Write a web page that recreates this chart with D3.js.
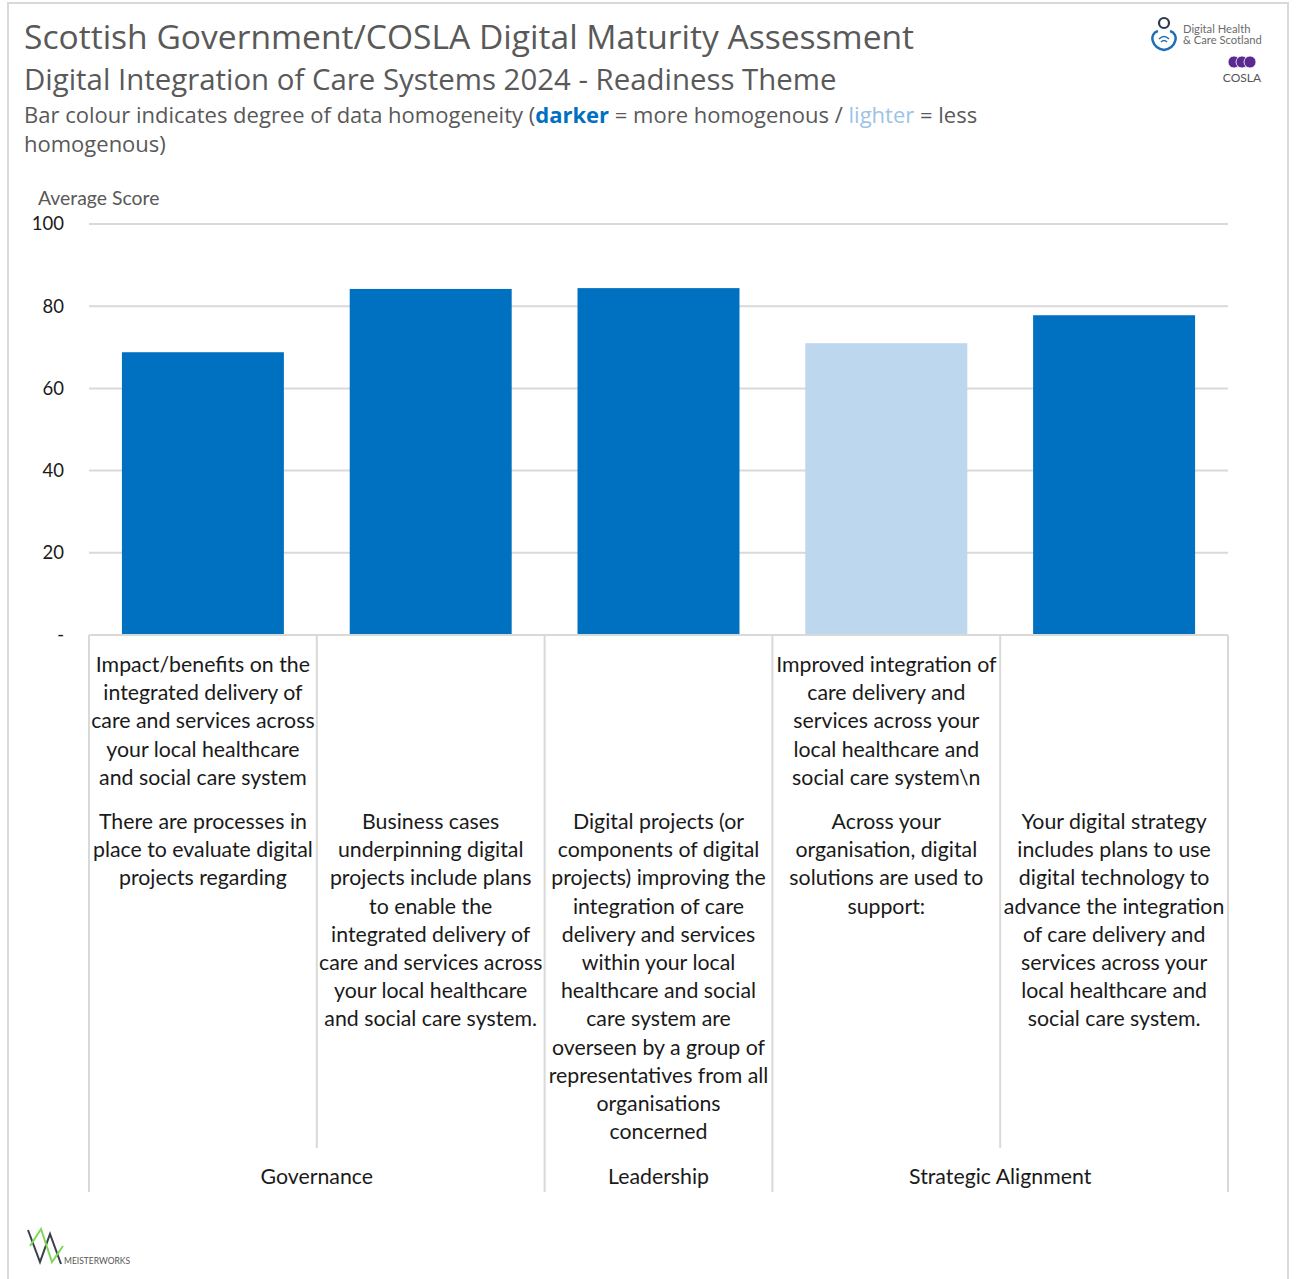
<!DOCTYPE html>
<html><head><meta charset="utf-8">
<script src="https://cdn.jsdelivr.net/npm/d3@7"></script>
<style>
body{margin:0;background:#fff;}
svg{display:block;}
</style></head>
<body>
<svg id="chart" width="1297" height="1279"></svg>
<script>
// ---- data ----
const categories = ["Q1","Q2","Q3","Q4","Q5"];
const values = [68.8, 84.2, 84.4, 71.0, 77.8];
const homogeneity = ["darker","darker","darker","lighter","darker"];
const subLabels = [
  ["Impact/benefits on the","integrated delivery of","care and services across","your local healthcare","and social care system"],
  [],
  [],
  ["Improved integration of","care delivery and","services across your","local healthcare and","social care system\\n"],
  []
];
const mainLabels = [
  ["There are processes in","place to evaluate digital","projects regarding"],
  ["Business cases","underpinning digital","projects include plans","to enable the","integrated delivery of","care and services across","your local healthcare","and social care system."],
  ["Digital projects (or","components of digital","projects) improving the","integration of care","delivery and services","within your local","healthcare and social","care system are","overseen by a group of","representatives from all","organisations","concerned"],
  ["Across your","organisation, digital","solutions are used to","support:"],
  ["Your digital strategy","includes plans to use","digital technology to","advance the integration","of care delivery and","services across your","local healthcare and","social care system."]
];
const groups = ["Governance","Governance","Leadership","Strategic Alignment","Strategic Alignment"];
const yTicks = [0,20,40,60,80,100];
const yTickLabels = ["-","20","40","60","80","100"];

// ---- styles ----
const colors = {darker:"#0070C0", lighter:"#BDD7EE"};
const grid = "#d9d9d9";
const labelFont = "Lato, 'Open Sans', sans-serif";
const labelSize = 21.3;

const svg = d3.select("#chart");

// frame
svg.append("rect").attr("x",8).attr("y",3).attr("width",1280).attr("height",1290)
  .attr("fill","none").attr("stroke","#d9d9d9").attr("stroke-width",2);

// titles
const tf = "'Open Sans', sans-serif";
svg.append("text").attr("x",24).attr("y",49).attr("font-family",tf).attr("font-size",33.6)
  .attr("fill","#595959").text("Scottish Government/COSLA Digital Maturity Assessment");
svg.append("text").attr("x",24).attr("y",90).attr("font-family",tf).attr("font-size",29.4)
  .attr("fill","#595959").text("Digital Integration of Care Systems 2024 - Readiness Theme");
const note = svg.append("text").attr("x",24).attr("y",123).attr("font-family",tf).attr("font-size",22).attr("fill","#595959");
note.append("tspan").text("Bar colour indicates degree of data homogeneity (");
note.append("tspan").attr("fill","#0070C0").attr("font-weight","bold").text("darker");
note.append("tspan").text(" = more homogenous / ");
note.append("tspan").attr("fill","#9DC3E6").text("lighter");
note.append("tspan").text(" = less");
svg.append("text").attr("x",24).attr("y",152).attr("font-family",tf).attr("font-size",22)
  .attr("fill","#595959").text("homogenous)");

// scales
const x = d3.scaleBand().domain(categories).range([89,1228]).paddingInner(0.289).paddingOuter(0.1445);
const cell = d3.scaleBand().domain(categories).range([89,1228]).padding(0);
const y = d3.scaleLinear().domain([0,100]).range([635,224]);

// gridlines
svg.append("g").selectAll("line").data(yTicks.filter(d=>d>0)).join("line")
  .attr("x1",89).attr("x2",1228).attr("y1",d=>y(d)).attr("y2",d=>y(d))
  .attr("stroke",grid).attr("stroke-width",2);

// y axis labels
svg.append("text").attr("x",38).attr("y",205).attr("font-family",labelFont).attr("font-size",19.4)
  .attr("fill","#595959").text("Average Score");
const yAxis = d3.axisLeft(y).tickValues(yTicks).tickFormat((d,i)=>yTickLabels[i]).tickSize(0).tickPadding(0);
const ya = svg.append("g").attr("transform","translate(64,0)").call(yAxis);
ya.select(".domain").remove();
ya.selectAll("text").attr("font-family",labelFont).attr("font-size",18.5).attr("fill","#1a1a1a");

// bars
svg.append("g").selectAll("rect").data(categories).join("rect")
  .attr("x",d=>x(d)).attr("width",x.bandwidth())
  .attr("y",(d,i)=>y(values[i])).attr("height",(d,i)=>y(0)-y(values[i]))
  .attr("fill",(d,i)=>colors[homogeneity[i]]);

// category axis box
const axisTop = y(0);
svg.append("line").attr("x1",89).attr("x2",1228).attr("y1",axisTop).attr("y2",axisTop)
  .attr("stroke",grid).attr("stroke-width",2);
const groupBounds = [];
categories.forEach((c,i)=>{
  if(i===0 || groups[i]!==groups[i-1]) groupBounds.push({start:cell(c), name:groups[i], idx:i});
});
groupBounds.forEach((g,k)=>{
  g.end = k<groupBounds.length-1 ? groupBounds[k+1].start : cell.range()[1];
});
const dividers = [];
categories.forEach((c,i)=>{
  const xs = cell(c);
  const isGroupStart = i===0 || groups[i]!==groups[i-1];
  dividers.push({x:xs, y2: isGroupStart?1192:1148});
});
dividers.push({x:cell.range()[1], y2:1192});
svg.append("g").selectAll("line").data(dividers).join("line")
  .attr("x1",d=>d.x).attr("x2",d=>d.x).attr("y1",axisTop).attr("y2",d=>d.y2)
  .attr("stroke",grid).attr("stroke-width",2);

// category labels
const lh = 28.2;
categories.forEach((c,i)=>{
  const cx = cell(c)+cell.bandwidth()/2;
  const g = svg.append("g").attr("font-family",labelFont).attr("font-size",labelSize).attr("fill","#1a1a1a").attr("text-anchor","middle");
  subLabels[i].forEach((t,j)=>{
    g.append("text").attr("x",cx).attr("y",672+j*lh).text(t);
  });
  mainLabels[i].forEach((t,j)=>{
    g.append("text").attr("x",cx).attr("y",829+j*lh).text(t);
  });
});
// group labels
svg.append("g").selectAll("text").data(groupBounds).join("text")
  .attr("x",d=>(d.start+d.end)/2).attr("y",1184).attr("text-anchor","middle")
  .attr("font-family",labelFont).attr("font-size",labelSize).attr("fill","#1a1a1a").text(d=>d.name);

// ---- logos (decorative) ----
const lg = svg.append("g");
lg.append("circle").attr("cx",1164).attr("cy",23).attr("r",5).attr("fill","none").attr("stroke","#2b3a4a").attr("stroke-width",2.2);
lg.append("path").attr("d","M1158,31 C1148,34 1152,48 1164,50 C1176,48 1180,34 1170,31").attr("fill","none").attr("stroke","#1f6fb8").attr("stroke-width",2.5);
lg.append("path").attr("d","M1159,39 Q1164,34 1169,39 M1161,42 Q1164,39 1167,42").attr("fill","none").attr("stroke","#1f6fb8").attr("stroke-width",1.6);
lg.append("text").attr("x",1183).attr("y",33).attr("font-family","Lato, sans-serif").attr("font-size",11.2).attr("fill","#6b6b6b").text("Digital Health");
lg.append("text").attr("x",1183).attr("y",44).attr("font-family","Lato, sans-serif").attr("font-size",11.2).attr("fill","#6b6b6b").text("& Care Scotland");
[1234,1242,1250].forEach(cx=>lg.append("circle").attr("cx",cx).attr("cy",62).attr("r",6).attr("fill","#5a2a91").attr("stroke","#fff").attr("stroke-width",0.8));
lg.append("text").attr("x",1242).attr("y",82).attr("text-anchor","middle").attr("font-family","Lato, sans-serif").attr("font-size",12).attr("fill","#555").text("COSLA");
lg.append("path").attr("d","M28,1230 L40,1262 L50,1234 L61,1264").attr("fill","none").attr("stroke","#3a3f4a").attr("stroke-width",2);
lg.append("path").attr("d","M30,1246 L41,1229 L52,1262 L63,1246").attr("fill","none").attr("stroke","#7ed957").attr("stroke-width",2);
lg.append("text").attr("x",64).attr("y",1264).attr("font-family","Lato, sans-serif").attr("font-size",8.5).attr("fill","#555").text("MEISTERWORKS");
</script>
</body></html>
